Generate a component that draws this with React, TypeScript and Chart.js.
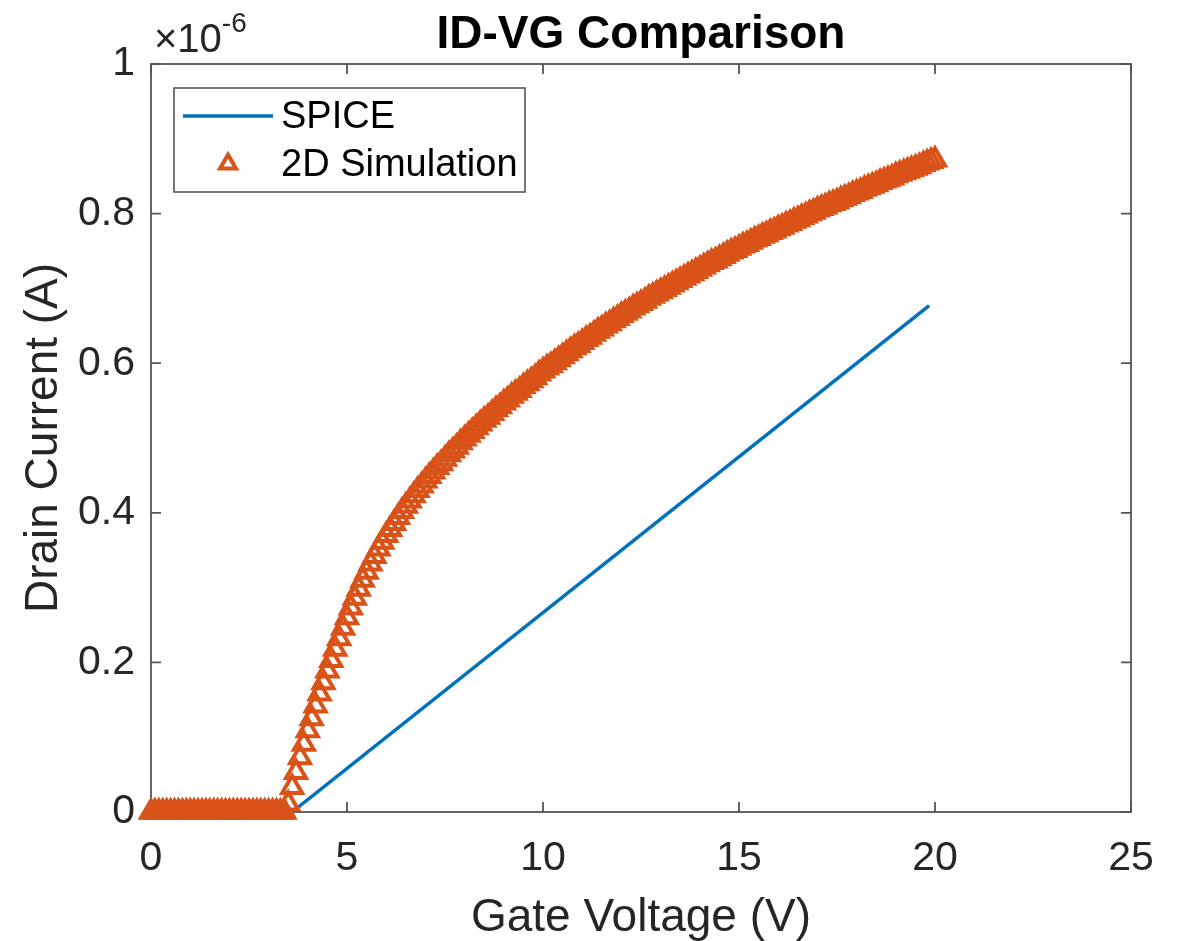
import React, { useEffect, useRef } from "react";
import { Chart, registerables } from "chart.js";

Chart.register(...registerables);

// Gate voltage sweep for the 2D simulation (V)
const VG_2D = [
  0, 0.1, 0.2, 0.3, 0.4, 0.5, 0.6, 0.7, 0.8, 0.9,
  1, 1.1, 1.2, 1.3, 1.4, 1.5, 1.6, 1.7, 1.8, 1.9,
  2, 2.1, 2.2, 2.3, 2.4, 2.5, 2.6, 2.7, 2.8, 2.9,
  3, 3.1, 3.2, 3.3, 3.4, 3.5, 3.6, 3.7, 3.8, 3.9,
  4, 4.1, 4.2, 4.3, 4.4, 4.5, 4.6, 4.7, 4.8, 4.9,
  5, 5.1, 5.2, 5.3, 5.4, 5.5, 5.6, 5.7, 5.8, 5.9,
  6, 6.1, 6.2, 6.3, 6.4, 6.5, 6.6, 6.7, 6.8, 6.9,
  7, 7.1, 7.2, 7.3, 7.4, 7.5, 7.6, 7.7, 7.8, 7.9,
  8, 8.1, 8.2, 8.3, 8.4, 8.5, 8.6, 8.7, 8.8, 8.9,
  9, 9.1, 9.2, 9.3, 9.4, 9.5, 9.6, 9.7, 9.8, 9.9,
  10, 10.1, 10.2, 10.3, 10.4, 10.5, 10.6, 10.7, 10.8, 10.9,
  11, 11.1, 11.2, 11.3, 11.4, 11.5, 11.6, 11.7, 11.8, 11.9,
  12, 12.1, 12.2, 12.3, 12.4, 12.5, 12.6, 12.7, 12.8, 12.9,
  13, 13.1, 13.2, 13.3, 13.4, 13.5, 13.6, 13.7, 13.8, 13.9,
  14, 14.1, 14.2, 14.3, 14.4, 14.5, 14.6, 14.7, 14.8, 14.9,
  15, 15.1, 15.2, 15.3, 15.4, 15.5, 15.6, 15.7, 15.8, 15.9,
  16, 16.1, 16.2, 16.3, 16.4, 16.5, 16.6, 16.7, 16.8, 16.9,
  17, 17.1, 17.2, 17.3, 17.4, 17.5, 17.6, 17.7, 17.8, 17.9,
  18, 18.1, 18.2, 18.3, 18.4, 18.5, 18.6, 18.7, 18.8, 18.9,
  19, 19.1, 19.2, 19.3, 19.4, 19.5, 19.6, 19.7, 19.8, 19.9,
  20,
];

// Drain current from 2D simulation, in units of 1e-6 A
const ID_2D = [
  0, 0, 0, 0, 0, 0, 0, 0, 0, 0,
  0, 0, 0, 0, 0, 0, 0, 0, 0, 0,
  0, 0, 0, 0, 0, 0, 0, 0, 0, 0,
  0, 0, 0, 0, 0,
  0.011, 0.033, 0.053, 0.073, 0.091,
  0.109, 0.125, 0.142, 0.158, 0.173, 0.189, 0.203, 0.218, 0.232, 0.246,
  0.260, 0.273, 0.286, 0.298, 0.310, 0.321, 0.332, 0.342, 0.352, 0.361,
  0.370, 0.378, 0.386, 0.394, 0.402, 0.409, 0.416, 0.423, 0.430, 0.436,
  0.443, 0.449, 0.455, 0.461, 0.466, 0.472, 0.478, 0.483, 0.488, 0.494,
  0.499, 0.504, 0.509, 0.514, 0.519, 0.524, 0.528, 0.533, 0.538, 0.542,
  0.547, 0.551, 0.556, 0.560, 0.564, 0.569, 0.573, 0.577, 0.581, 0.586,
  0.590, 0.594, 0.597, 0.601, 0.605, 0.609, 0.613, 0.617, 0.621, 0.624,
  0.628, 0.632, 0.635, 0.639, 0.643, 0.646, 0.650, 0.653, 0.657, 0.660,
  0.664, 0.667, 0.670, 0.674, 0.677, 0.680, 0.683, 0.687, 0.690, 0.693,
  0.696, 0.699, 0.702, 0.705, 0.708, 0.711, 0.714, 0.717, 0.720, 0.723,
  0.726, 0.729, 0.732, 0.735, 0.737, 0.740, 0.743, 0.746, 0.749, 0.751,
  0.754, 0.757, 0.759, 0.762, 0.765, 0.767, 0.770, 0.772, 0.775, 0.777,
  0.780, 0.782, 0.785, 0.787, 0.790, 0.792, 0.795, 0.797, 0.800, 0.802,
  0.805, 0.807, 0.809, 0.812, 0.814, 0.816, 0.819, 0.821, 0.823, 0.826,
  0.828, 0.830, 0.833, 0.835, 0.837, 0.839, 0.842, 0.844, 0.846, 0.848,
  0.851, 0.853, 0.855, 0.857, 0.859, 0.861, 0.863, 0.866, 0.868, 0.870,
  0.872,
];

// SPICE model (V, 1e-6 A)
const VG_SPICE = [0, 3.6, 19.85];
const ID_SPICE = [0, 0, 0.677];

const X_TICKS = [0, 5, 10, 15, 20, 25];
const Y_TICKS = [0, 0.2, 0.4, 0.6, 0.8, 1];

const TITLE = "ID-VG Comparison";
const X_LABEL = "Gate Voltage (V)";
const Y_LABEL = "Drain Current (A)";
const SERIES_NAMES = ["SPICE", "2D Simulation"];

const FONT = '"Liberation Sans", Arial, Helvetica, sans-serif';
const AXIS_COLOR = "#262626";
const BOX_COLOR = "#555555";
const BLUE = "#0072BD";
const ORANGE = "#D95319";

const matlabPlugin = {
  id: "matlabLook",
  beforeDatasetsDraw(chart: any) {
    const { ctx, chartArea } = chart;
    const { left, right, top, bottom } = chartArea;
    const xs = chart.scales.x;
    const ys = chart.scales.y;
    ctx.save();
    ctx.strokeStyle = BOX_COLOR;
    ctx.lineWidth = 1.8;
    ctx.strokeRect(left, top, right - left, bottom - top);
    const tl = 10;
    ctx.beginPath();
    X_TICKS.forEach((v) => {
      const px = xs.getPixelForValue(v);
      ctx.moveTo(px, bottom);
      ctx.lineTo(px, bottom - tl);
      ctx.moveTo(px, top);
      ctx.lineTo(px, top + tl);
    });
    Y_TICKS.forEach((v) => {
      const py = ys.getPixelForValue(v);
      ctx.moveTo(left, py);
      ctx.lineTo(left + tl, py);
      ctx.moveTo(right, py);
      ctx.lineTo(right - tl, py);
    });
    ctx.stroke();
    ctx.restore();
  },
  afterDraw(chart: any) {
    const { ctx, chartArea } = chart;
    const { left, right, top, bottom } = chartArea;
    ctx.save();
    // Title
    ctx.fillStyle = "#000000";
    ctx.textAlign = "center";
    ctx.textBaseline = "alphabetic";
    ctx.font = `bold 46px ${FONT}`;
    ctx.fillText(TITLE, (left + right) / 2, 48);

    // Exponent
    ctx.fillStyle = AXIS_COLOR;
    ctx.textAlign = "left";
    ctx.font = `40px ${FONT}`;
    ctx.fillText("\u00d710", left + 3, 52);
    const w = ctx.measureText("\u00d710").width;
    ctx.font = `28px ${FONT}`;
    ctx.fillText("-6", left + 3 + w, 32);

    // Axis titles
    ctx.font = `46px ${FONT}`;
    ctx.textAlign = "center";
    ctx.fillText(X_LABEL, (left + right) / 2, 931);
    ctx.save();
    ctx.translate(57, (top + bottom) / 2);
    ctx.rotate(-Math.PI / 2);
    ctx.fillText(Y_LABEL, 0, 0);
    ctx.restore();

    // Legend
    const lx = 174, ly = 88, lw = 351, lh = 104;
    ctx.fillStyle = "#ffffff";
    ctx.fillRect(lx, ly, lw, lh);
    ctx.strokeStyle = BOX_COLOR;
    ctx.lineWidth = 1.6;
    ctx.strokeRect(lx, ly, lw, lh);
    const ds = chart.data.datasets;
    ctx.font = `38px ${FONT}`;
    ctx.textAlign = "left";
    ctx.textBaseline = "middle";
    ds.forEach((d: any, i: number) => {
      const cy = ly + 28 + i * 48;
      if (d.showLine !== false) {
        ctx.strokeStyle = d.borderColor;
        ctx.lineWidth = d.borderWidth;
        ctx.beginPath();
        ctx.moveTo(183, cy);
        ctx.lineTo(273, cy);
        ctx.stroke();
      } else {
        const r = d.pointRadius * 0.8;
        ctx.strokeStyle = d.pointBorderColor;
        ctx.lineWidth = d.pointBorderWidth;
        ctx.lineJoin = "miter";
        ctx.beginPath();
        ctx.moveTo(228, cy - r);
        ctx.lineTo(228 + r * Math.sin(Math.PI / 3), cy + r / 2);
        ctx.lineTo(228 - r * Math.sin(Math.PI / 3), cy + r / 2);
        ctx.closePath();
        ctx.stroke();
      }
      ctx.fillStyle = "#000000";
      ctx.fillText(d.label, 281, cy + 2);
    });
    ctx.restore();
  },
};

export default function App() {
  const ref = useRef<HTMLCanvasElement | null>(null);
  useEffect(() => {
    if (!ref.current) return;
    const spice = VG_SPICE.map((x, i) => ({ x, y: ID_SPICE[i] }));
    const sim = VG_2D.map((x, i) => ({ x, y: ID_2D[i] }));
    const chart = new Chart(ref.current, {
      type: "scatter",
      data: {
        datasets: [
          {
            label: SERIES_NAMES[0],
            data: spice,
            showLine: true,
            borderColor: BLUE,
            borderWidth: 3.5,
            pointRadius: 0,
            pointHoverRadius: 0,
            order: 2,
            clip: false,
          } as any,
          {
            label: SERIES_NAMES[1],
            data: sim,
            showLine: false,
            pointStyle: "triangle",
            pointRadius: 11.5,
            pointHoverRadius: 11.5,
            pointBorderColor: ORANGE,
            pointBackgroundColor: "rgba(0,0,0,0)",
            pointBorderWidth: 4,
            order: 1,
            clip: false,
          } as any,
        ],
      },
      options: {
        animation: false,
        responsive: false,
        devicePixelRatio: 1,
        events: [],
        layout: { padding: { top: 64, right: 50, left: 0, bottom: 0 } },
        plugins: {
          legend: { display: false },
          tooltip: { enabled: false },
          title: { display: false },
        },
        scales: {
          x: {
            type: "linear",
            min: 0,
            max: 25,
            grid: { display: false, drawTicks: false },
            border: { display: false },
            ticks: {
              stepSize: 5,
              padding: 22,
              color: AXIS_COLOR,
              font: { family: FONT, size: 41 },
              maxRotation: 0,
            },
            afterFit: (s: any) => {
              s.height = 129;
            },
          },
          y: {
            type: "linear",
            min: 0,
            max: 1,
            grid: { display: false, drawTicks: false },
            border: { display: false },
            ticks: {
              stepSize: 0.2,
              padding: 16,
              color: AXIS_COLOR,
              font: { family: FONT, size: 41 },
              callback: (v: any) => String(Math.round(Number(v) * 10) / 10),
            },
            afterFit: (s: any) => {
              s.width = 151;
            },
          },
        },
      },
      plugins: [matlabPlugin],
    });
    return () => chart.destroy();
  }, []);
  return (
    <div style={{ position: "absolute", left: 0, top: 0, width: 1181, height: 941, background: "#fff" }}>
      <canvas ref={ref} width={1181} height={941} style={{ width: 1181, height: 941 }} />
    </div>
  );
}
